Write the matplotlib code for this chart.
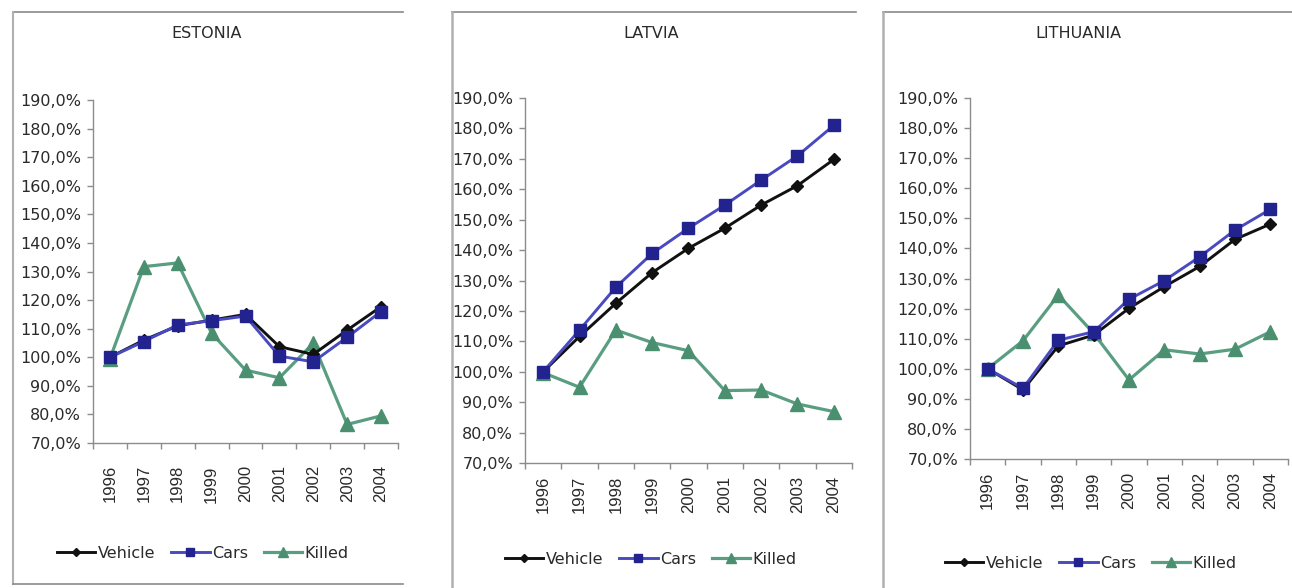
import matplotlib
matplotlib.use("Agg")
import matplotlib.pyplot as plt
from matplotlib.lines import Line2D
from matplotlib.ticker import FuncFormatter, FixedLocator

years = ["1996", "1997", "1998", "1999", "2000", "2001", "2002", "2003", "2004"]
countries = ["ESTONIA", "LATVIA", "LITHUANIA"]
series_names = ["Vehicle", "Cars", "Killed"]

estonia_vehicle = [100.0, 106.0, 111.0, 113.0, 115.0, 103.7, 101.0, 109.5, 117.7]
estonia_cars = [100.0, 105.5, 111.3, 112.8, 114.4, 100.4, 98.4, 107.0, 116.0]
estonia_killed = [99.5, 131.7, 133.0, 108.4, 95.5, 92.8, 104.9, 76.5, 79.5]

latvia_vehicle = [100.0, 111.6, 122.5, 132.6, 140.6, 147.2, 154.8, 161.2, 169.8]
latvia_cars = [100.0, 113.7, 127.8, 138.9, 147.2, 154.8, 163.0, 171.0, 181.0]
latvia_killed = [99.7, 94.9, 113.7, 109.6, 106.9, 93.8, 94.0, 89.4, 86.9]

lithuania_vehicle = [100.0, 93.0, 107.6, 111.2, 120.1, 127.3, 134.0, 143.0, 148.1]
lithuania_cars = [100.0, 93.5, 109.5, 112.3, 123.1, 129.3, 137.2, 146.1, 153.0]
lithuania_killed = [100.0, 109.3, 124.5, 111.8, 96.3, 106.3, 104.9, 106.5, 112.3]

y_ticks = [70, 80, 90, 100, 110, 120, 130, 140, 150, 160, 170, 180, 190]

data = {
    "ESTONIA": (estonia_vehicle, estonia_cars, estonia_killed),
    "LATVIA": (latvia_vehicle, latvia_cars, latvia_killed),
    "LITHUANIA": (lithuania_vehicle, lithuania_cars, lithuania_killed),
}

W, H = 1292, 588
fig = plt.figure(figsize=(W / 100, H / 100), dpi=100)
fig.patch.set_facecolor("white")

def fx(px):
    return px / W

def fy(py):
    return 1 - py / H

panels = {
    "ESTONIA": dict(ax=(93, 398, 100, 443), title=(207, 34), legend=(203, 553), xpad=16),
    "LATVIA": dict(ax=(525, 852, 98, 463), title=(651, 33), legend=(651, 559), xpad=9),
    "LITHUANIA": dict(ax=(970, 1288, 98, 459), title=(1078, 33), legend=(1091, 563), xpad=9),
}

frame_col = "#8a8a8a"
fig.add_artist(Line2D([fx(13), fx(403)], [fy(12), fy(12)], color=frame_col, lw=1.2))
fig.add_artist(Line2D([fx(13), fx(13)], [fy(12), fy(584)], color="#b0b0b0", lw=1.5))
fig.add_artist(Line2D([fx(13), fx(403)], [fy(584), fy(584)], color=frame_col, lw=1.2))
fig.add_artist(Line2D([fx(452), fx(856)], [fy(12), fy(12)], color=frame_col, lw=1.2))
fig.add_artist(Line2D([fx(452), fx(452)], [fy(12), fy(588)], color="#b0b0b0", lw=1.8))
fig.add_artist(Line2D([fx(883), fx(1292)], [fy(12), fy(12)], color=frame_col, lw=1.2))
fig.add_artist(Line2D([fx(883), fx(883)], [fy(12), fy(588)], color="#b0b0b0", lw=1.8))

veh_col = "#111111"
cars_line = "#4a4ac0"
cars_mark = "#23238f"
kill_line = "#5a9e82"
kill_mark = "#4a9070"
text_col = "#2a2a2a"
axis_col = "#8c8c8c"

x = list(range(len(years)))

for name in countries:
    p = panels[name]
    l, r, t, b = p["ax"]
    ax = fig.add_axes([fx(l), fy(b), fx(r - l), (b - t) / H])
    veh, cars, killed = data[name]
    ax.plot(x, killed, color=kill_line, lw=2.3, marker="^", ms=9.5,
            mfc=kill_mark, mec=kill_mark, label="Killed", zorder=2)
    ax.plot(x, veh, color=veh_col, lw=2.1, marker="D", ms=6.5,
            mfc=veh_col, mec=veh_col, label="Vehicle", zorder=3)
    ax.plot(x, cars, color=cars_line, lw=2.1, marker="s", ms=8.5,
            mfc=cars_mark, mec=cars_mark, label="Cars", zorder=4)
    ax.set_xlim(-0.5, len(years) - 0.5)
    ax.set_ylim(70, 190)
    ax.set_facecolor("none")
    for s in ["top", "right"]:
        ax.spines[s].set_visible(False)
    for s in ["left", "bottom"]:
        ax.spines[s].set_color(axis_col)
        ax.spines[s].set_linewidth(1.0)
    ax.yaxis.set_major_locator(FixedLocator(y_ticks))
    ax.yaxis.set_major_formatter(FuncFormatter(lambda v, pos: f"{v:.1f}".replace(".", ",") + "%"))
    ax.tick_params(axis="y", direction="out", length=4.5, width=1, color=axis_col,
                   pad=4, labelsize=11.5, labelcolor=text_col)
    for lab in ax.get_yticklabels():
        lab.set_fontfamily("DejaVu Sans")
    ax.xaxis.set_major_locator(FixedLocator([i - 0.5 for i in range(len(years) + 1)]))
    ax.xaxis.set_major_formatter(FuncFormatter(lambda v, pos: ""))
    ax.tick_params(axis="x", which="major", direction="out", length=4, width=1, color=axis_col)
    ax.set_xticks(x, minor=True)
    ax.set_xticklabels(years, minor=True, rotation=90, fontsize=12,
                       fontfamily="Liberation Sans", color=text_col)
    ax.tick_params(axis="x", which="minor", length=0, pad=p["xpad"])
    fig.text(fx(p["title"][0]), fy(p["title"][1]), name, ha="center", va="center",
             fontsize=11.5, color=text_col, fontfamily="DejaVu Sans")
    handles, labels = ax.get_legend_handles_labels()
    order = [labels.index(s) for s in series_names]
    leg = fig.legend([handles[i] for i in order], [labels[i] for i in order],
                     loc="center", bbox_to_anchor=(fx(p["legend"][0]), fy(p["legend"][1])),
                     ncol=3, frameon=False, handlelength=2.4, handletextpad=0.15,
                     columnspacing=1.0, prop={"family": "DejaVu Sans", "size": 11.5},
                     markerscale=0.7, borderpad=0, borderaxespad=0)
    for txt in leg.get_texts():
        txt.set_color(text_col)

fig.savefig("out.png", dpi=100, facecolor="white")
